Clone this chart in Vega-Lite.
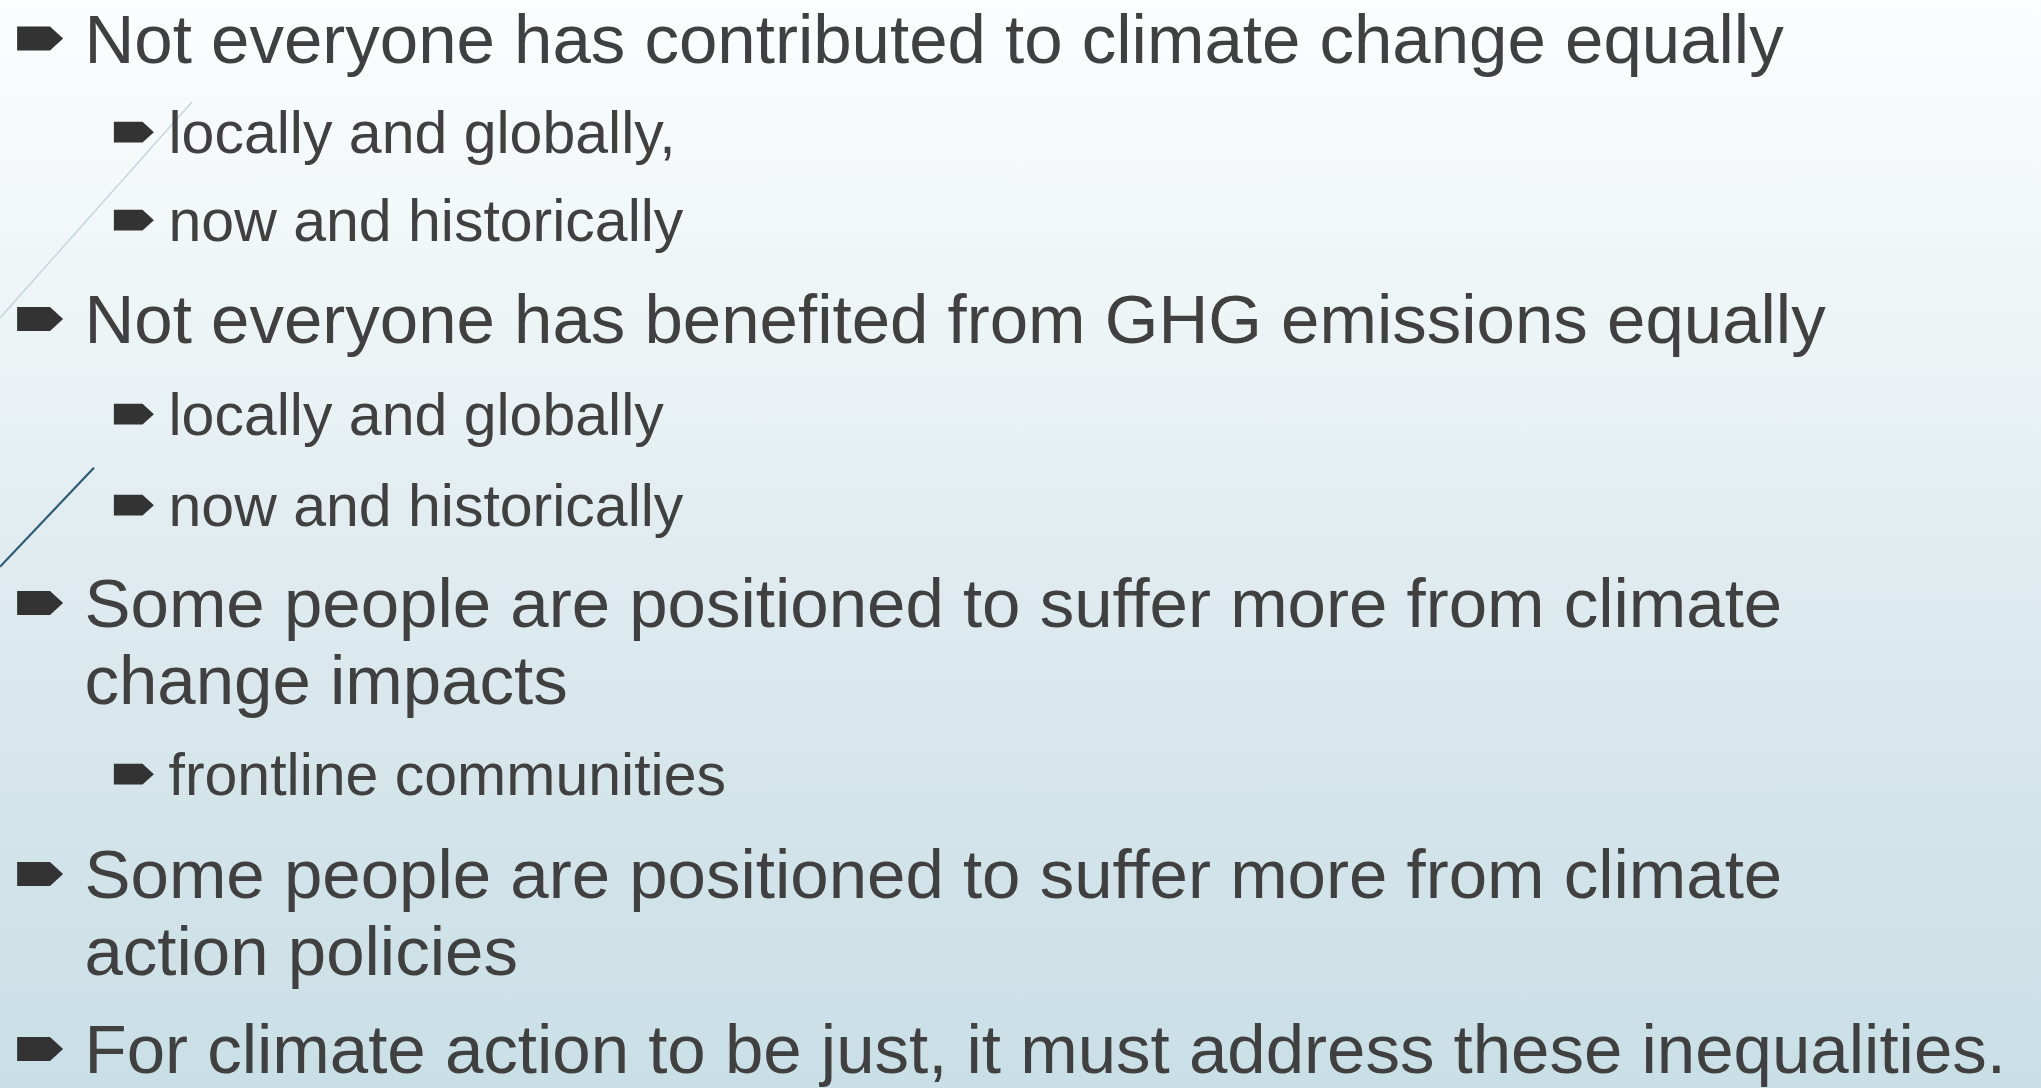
{
  "$schema": "https://vega.github.io/schema/vega-lite/v6.json",
  "width": 2041,
  "height": 1088,
  "autosize": {"type": "fit", "contains": "padding"},
  "padding": 0,
  "background": "#fcfdfe",
  "config": {"view": {"stroke": null}},
  "layer": [
    {
      "layer": [
        {
          "data": {"values": [{"panel": "slide"}]},
          "mark": {
            "type": "rect",
            "clip": true,
            "fill": {
              "gradient": "linear",
              "x1": 0, "y1": 0, "x2": 0, "y2": 1,
              "stops": [
                {"offset": 0, "color": "#fcfdfe"},
                {"offset": 0.28, "color": "#eef5f7"},
                {"offset": 0.5, "color": "#e1ecf0"},
                {"offset": 0.74, "color": "#d4e5ea"},
                {"offset": 1, "color": "#c9dfe6"}
              ]
            },
            "strokeWidth": 0
          },
          "encoding": {
            "x": {"datum": 0, "type": "quantitative"},
            "x2": {"datum": 960},
            "y": {"datum": 0, "type": "quantitative"},
            "y2": {"datum": 512}
          }
        },
        {
          "data": {
            "values": [
              {"kind": "light", "x": 90.3, "y": 48.0, "x2": 0, "y2": 149.6},
              {"kind": "dark", "x": 44.2, "y": 220.1, "x2": 0, "y2": 266.7}
            ]
          },
          "mark": {"type": "rule", "strokeCap": "butt", "clip": true},
          "encoding": {
            "x": {"field": "x", "type": "quantitative"},
            "y": {"field": "y", "type": "quantitative"},
            "x2": {"field": "x2"},
            "y2": {"field": "y2"},
            "color": {"field": "kind", "type": "nominal", "scale": {"domain": ["light", "dark"], "range": ["#c6d5de", "#2d5b75"]}, "legend": null},
            "strokeWidth": {"field": "kind", "type": "nominal", "scale": {"domain": ["light", "dark"], "range": [1.5, 2.2]}, "legend": null}
          }
        }
      ],
      "encoding": {
        "x": {"scale": {"type": "linear", "domain": [0, 960], "nice": false, "zero": false}, "axis": null},
        "y": {"scale": {"type": "linear", "domain": [0, 512], "nice": false, "zero": false, "reverse": true}, "axis": null}
      }
    },
    {
      "data": {
        "values": [
          {"para": 1, "level": "main", "text": "Not everyone has contributed to climate change equally"},
          {"para": 2, "level": "sub", "text": "locally and globally,"},
          {"para": 3, "level": "sub", "text": "now and historically"},
          {"para": 4, "level": "main", "text": "Not everyone has benefited from GHG emissions equally"},
          {"para": 5, "level": "sub", "text": "locally and globally"},
          {"para": 6, "level": "sub", "text": "now and historically"},
          {"para": 7, "level": "main", "text": "Some people are positioned to suffer more from climate\nchange impacts"},
          {"para": 8, "level": "sub", "text": "frontline communities"},
          {"para": 9, "level": "main", "text": "Some people are positioned to suffer more from climate\naction policies"},
          {"para": 10, "level": "main", "text": "For climate action to be just, it must address these inequalities."}
        ]
      },
      "encoding": {
        "x": {"field": "level", "type": "nominal", "scale": {"type": "point", "domain": ["main", "sub"], "range": [84.5, 168.5], "padding": 0}, "axis": null},
        "y": {"field": "para", "type": "quantitative", "scale": {"type": "linear", "domain": [1, 2, 3, 4, 5, 6, 7, 8, 9, 10], "range": [62.5, 153, 241, 343, 435, 526, 627, 795, 898, 1073], "nice": false, "zero": false}, "axis": null}
      },
      "layer": [
        {
          "mark": {
            "type": "point",
            "filled": true,
            "opacity": 1,
            "color": "#333333",
            "strokeWidth": 0
          },
          "encoding": {
            "size": {"field": "level", "type": "nominal", "scale": {"domain": ["main", "sub"], "range": [2116, 1600]}, "legend": null},
            "shape": {"field": "level", "type": "nominal", "scale": {"domain": ["main", "sub"], "range": ["M-2.93,-1.56 L-1.5,-1.56 L-0.93,-1.04 L-1.5,-0.52 L-2.93,-0.52 Z", "M-2.73,-1.56 L-1.3,-1.56 L-0.73,-1.04 L-1.3,-0.52 L-2.73,-0.52 Z"]}, "legend": null}
          }
        },
        {
          "mark": {
            "type": "text",
            "align": "left",
            "baseline": "alphabetic",
            "font": "Liberation Sans",
            "color": "#404040",
            "lineBreak": "\n",
            "lineHeight": 76.5
          },
          "encoding": {
            "text": {"field": "text", "type": "nominal"},
            "size": {"field": "level", "type": "nominal", "scale": {"domain": ["main", "sub"], "range": [69, 59]}, "legend": null}
          }
        }
      ],
      "resolve": {"scale": {"size": "independent"}}
    }
  ],
  "resolve": {"scale": {"x": "independent", "y": "independent", "color": "independent", "size": "independent", "strokeWidth": "independent", "shape": "independent"}}
}
